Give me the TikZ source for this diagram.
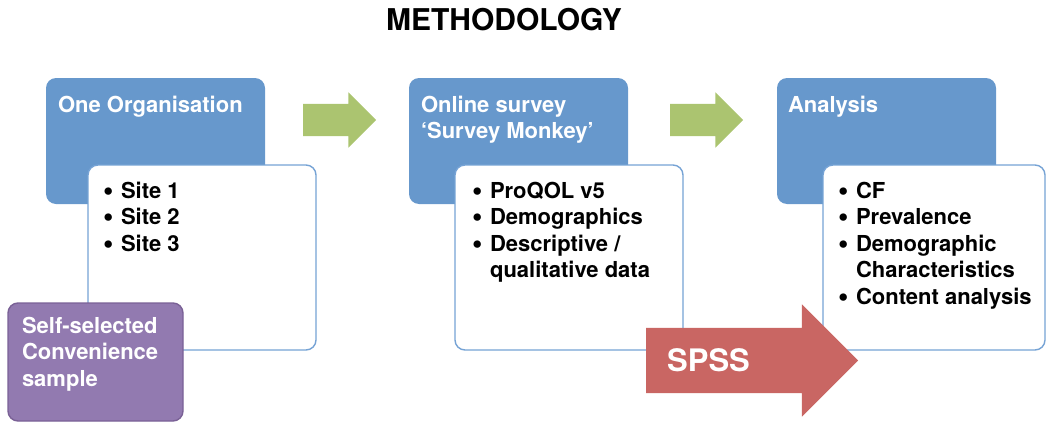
\documentclass[tikz,border=0pt]{standalone}
\usepackage{fontspec}
\setmainfont{TeX Gyre Heros}
\usepackage{graphicx}
\usepackage{xcolor}
\usepackage{tikz}
\usetikzlibrary{positioning,shapes.arrows}

\definecolor{hdblue}{RGB}{103,152,204}
\definecolor{lnblue}{RGB}{118,163,213}
\definecolor{gogreen}{RGB}{171,196,112}
\definecolor{spred}{RGB}{201,102,99}
\definecolor{smpurple}{RGB}{146,122,176}
\definecolor{smedge}{RGB}{122,97,150}

% one bullet line, and the indent for a wrapped line
\newcommand{\itm}[1]{\makebox[18pt][l]{\raisebox{-2pt}{\scalebox{1.35}{\textbullet}}}#1}
\newcommand{\cnt}{\hspace*{18pt}}

\begin{document}
\begin{tikzpicture}[x=1pt, y=1pt,
  font=\bfseries\fontsize{22}{26.5}\selectfont,
  head/.style={fill=hdblue, rounded corners=10pt, minimum width=219pt, minimum height=126pt, anchor=north west, inner sep=0pt, outer sep=0pt},
  list/.style={draw=lnblue, line width=1.4pt, fill=white, rounded corners=10pt, minimum height=185pt, anchor=north west, inner sep=0pt, outer sep=0pt},
  htext/.style={text=white, align=left, inner sep=0pt, outer sep=0pt},
  ltext/.style={text=black, align=left, inner sep=0pt, outer sep=0pt},
  goarrow/.style={single arrow, fill=gogreen, minimum height=73pt, inner xsep=0pt, inner ysep=16pt, single arrow head extend=11.5pt, outer sep=0pt, anchor=tail}]
\useasboundingbox (0,0) rectangle (1046,-423);

% title
\node[anchor=base, font=\bfseries\fontsize{30}{34}\selectfont] (title) at (504,-30) {METHODOLOGY};

% top blue boxes
\node[head] (org) at (46,-78) {};
\node[head] (survey) at (409,-78) {};
\node[head] (analysis) at (777,-78) {};
\node[htext, below right=18pt and 12pt of org.north west] (orgtxt) {One Organisation};
\node[htext, below right=18pt and 12pt of survey.north west] (surveytxt) {Online survey\\`Survey Monkey'};
\node[htext, below right=18pt and 11pt of analysis.north west] (analysistxt) {Analysis};

% white list boxes
\node[list, minimum width=228pt] (sites) at (88,-165) {};
\node[list, minimum width=228pt] (tools) at (455,-165) {};
\node[list, minimum width=222pt] (results) at (823,-165) {};
\node[ltext, below right=17pt and 15pt of sites.north west] (sitestxt) {\itm{Site 1}\\\itm{Site 2}\\\itm{Site 3}};
\node[ltext, below right=17pt and 17pt of tools.north west] (toolstxt) {\itm{ProQOL v5}\\\itm{Demographics}\\\itm{Descriptive /}\\\cnt qualitative data};
\node[ltext, below right=17pt and 15pt of results.north west] (resultstxt) {\itm{CF}\\\itm{Prevalence}\\\itm{Demographic}\\\cnt Characteristics\\\itm{Content analysis}};

% sample box
\node[draw=smedge, line width=1.4pt, fill=smpurple, rounded corners=10pt, minimum width=175pt, minimum height=118pt, anchor=north west, inner sep=0pt, outer sep=0pt] (sample) at (8,-303) {};
\node[htext, below right=14pt and 14pt of sample.north west] (sampletxt) {Self-selected\\Convenience\\sample};

% green step arrows
\node[goarrow] (go1) at (303,-120) {};
\node[goarrow] (go2) at (670,-120) {};

% SPSS arrow
\node[single arrow, fill=spred, minimum height=212pt, inner xsep=0pt, inner ysep=32.5pt, single arrow head extend=23.5pt, outer sep=0pt, anchor=tail] (spss) at (646,-360.5) {};
\node[anchor=base west, text=white, inner sep=0pt, font=\bfseries\fontsize{31}{34}\selectfont] (spsstxt) at (667,-371) {SPSS};
\end{tikzpicture}
\end{document}
